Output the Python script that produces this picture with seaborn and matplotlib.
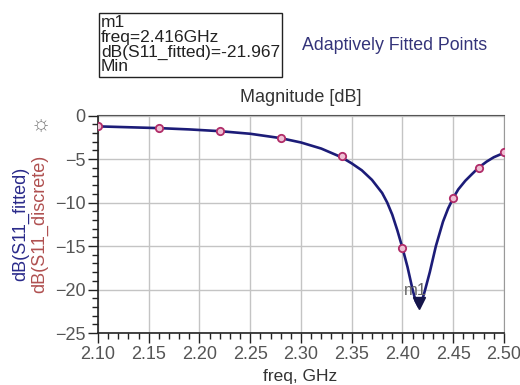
import numpy as np
import pandas as pd
import matplotlib
matplotlib.use("Agg")
import matplotlib.pyplot as plt
import seaborn as sns
from matplotlib.ticker import MultipleLocator

# ====
# datos
# ====
freq_fit = [2.10, 2.13, 2.16, 2.19, 2.22, 2.25, 2.28, 2.30, 2.32, 2.34,
            2.35, 2.36, 2.37, 2.38, 2.385, 2.39, 2.395, 2.40, 2.405, 2.41,
            2.413, 2.416, 2.419, 2.422, 2.427, 2.433, 2.44, 2.445, 2.45, 2.455,
            2.462, 2.468, 2.475, 2.483, 2.49, 2.50]
s11_fit = [-1.25, -1.35, -1.45, -1.6, -1.8, -2.1, -2.6, -3.1, -3.8, -4.8,
           -5.5, -6.3, -7.4, -8.9, -10.0, -11.4, -13.2, -15.2, -17.4, -20.0,
           -21.3, -21.967, -21.4, -20.2, -18.0, -15.0, -12.2, -10.7, -9.5, -8.5,
           -7.5, -6.8, -6.0, -5.3, -4.8, -4.3]

freq_disc = [2.10, 2.16, 2.22, 2.28, 2.34, 2.40, 2.45, 2.475, 2.50]
s11_disc = [-1.25, -1.45, -1.8, -2.6, -4.7, -15.2, -9.5, -6.05, -4.25]

m1_freq = 2.416
m1_val = -21.967

xticks = [2.10, 2.15, 2.20, 2.25, 2.30, 2.35, 2.40, 2.45, 2.50]
yticks = [0, -5, -10, -15, -20, -25]

df_fit = pd.DataFrame({'freq': freq_fit, 'dB': s11_fit})
df_disc = pd.DataFrame({'freq': freq_disc, 'dB': s11_disc})

sns.set_style("white")
plt.rcParams['font.family'] = ['Liberation Sans', 'DejaVu Sans']

fig = plt.figure(figsize=(5.2, 3.85), dpi=100)
ax = fig.add_axes([0.1885, 0.135, 0.7805, 0.565])

sns.lineplot(data=df_fit, x='freq', y='dB', ax=ax, color='#1c1c78', linewidth=1.9, zorder=3)
sns.scatterplot(data=df_disc, x='freq', y='dB', ax=ax, marker='o', s=28,
                facecolor='#efc0d4', edgecolor='#b02c68', linewidth=1.3, zorder=4)

# marcador m1
ax.plot([m1_freq], [m1_val + 0.4], marker='v', color='#15154a', markersize=8, zorder=5)
ax.text(m1_freq - 0.003, m1_val + 1.9, 'm1', color='#666666', fontsize=12,
        ha='center', va='center', zorder=6)

ax.set_xlim(2.10, 2.50)
ax.set_ylim(-25, 0)
ax.set_xticks(xticks)
ax.set_xticklabels([f'{t:.2f}' for t in xticks])
ax.set_yticks(yticks)
ax.xaxis.set_minor_locator(MultipleLocator(0.01))
ax.yaxis.set_minor_locator(MultipleLocator(1))
ax.grid(True, which='major', color='#c4c4c4', linewidth=1)
ax.tick_params(which='major', direction='out', length=7, width=1, color='#222222',
               labelsize=13, labelcolor='#555555', pad=2, left=True, bottom=True)
ax.tick_params(which='minor', direction='out', length=4, width=1, color='#222222',
               left=True, bottom=True)
for s in ['left', 'bottom']:
    ax.spines[s].set_color('#222222')
    ax.spines[s].set_linewidth(1.2)
ax.spines['top'].set_color('#555555')
ax.spines['right'].set_color('#999999')
ax.set_xlabel('')
ax.set_ylabel('')

fig.text(300 / 520, 1 - 377 / 385, 'freq, GHz', ha='center', va='center',
         fontsize=12.5, color='#333333')
fig.text(301 / 520, 1 - 98 / 385, 'Magnitude [dB]', ha='center', va='center',
         fontsize=13, color='#333333')

# etiquetas del eje y en dos colores
fig.text(21 / 520, 1 - 224 / 385, 'dB(S11_fitted)', rotation=90, ha='center', va='center',
         fontsize=13, color='#2a2a8a')
fig.text(40 / 520, 1 - 224 / 385, 'dB(S11_discrete)', rotation=90, ha='center', va='center',
         fontsize=13, color='#b05050')
fig.text(41 / 520, 1 - 125 / 385, '\u263c', ha='center', va='center',
         fontsize=16, color='#777777')

# caja del marcador
info = 'm1\nfreq=2.416GHz\ndB(S11_fitted)=-21.967\nMin'
fig.text(101 / 520, 1 - 15 / 385, info, ha='left', va='top', fontsize=12.5,
         color='#222222', linespacing=0.98,
         bbox=dict(boxstyle='square,pad=0.12', facecolor='white', edgecolor='#222222', linewidth=1))
fig.text(302 / 520, 1 - 45 / 385, 'Adaptively Fitted Points', ha='left', va='center',
         fontsize=12.8, color='#34347a')

fig.savefig('out.png', dpi=100)
